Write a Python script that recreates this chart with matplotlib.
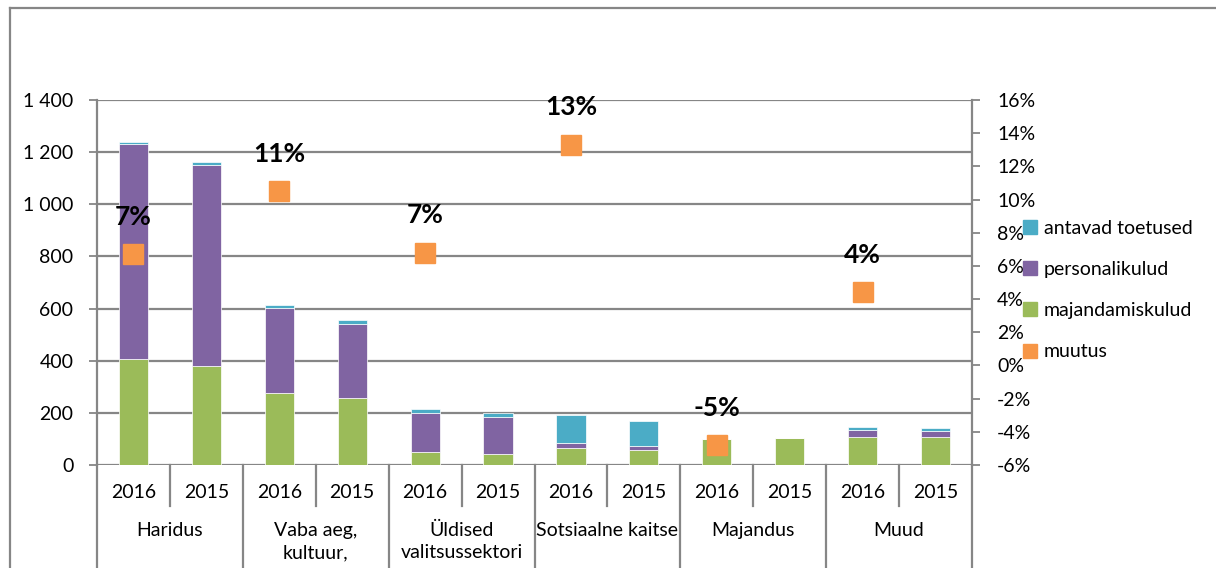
import numpy as np
import matplotlib
matplotlib.use('Agg')
import matplotlib.pyplot as plt
from matplotlib.patches import Patch
from matplotlib.lines import Line2D
import matplotlib.transforms as mtransforms

plt.rcParams['font.family'] = ['Lato', 'DejaVu Sans']

# Data
groups = ['Haridus', 'Vaba aeg,\nkultuur,', 'Üldised\nvalitsussektori',
          'Sotsiaalne kaitse', 'Majandus', 'Muud']
years = ['2016', '2015'] * 6
majandamiskulud = [405, 380, 277, 258, 48, 43, 66, 57, 98, 103, 107, 107]
personalikulud = [827, 772, 324, 284, 150, 142, 17, 15, 1, 0, 28, 23]
toetused = [6, 9, 13, 15, 17, 16, 109, 97, 1, 2, 11, 11]
muutus = [6.7, np.nan, 10.5, np.nan, 6.8, np.nan, 13.3, np.nan, -4.8, np.nan, 4.4, np.nan]
muutus_labels = ['7%', '', '11%', '', '7%', '', '13%', '', '-5%', '', '4%', '']

c_green = '#9BBB59'
c_purple = '#8064A2'
c_blue = '#4BACC6'
c_orange = '#F79646'
c_grid = '#868686'

W, H = 1216, 568
fig = plt.figure(figsize=(W / 100, H / 100), dpi=100)
ax = fig.add_axes([97 / W, 1 - 465 / H, (972 - 97) / W, 365 / H])
ax2 = ax.twinx()

x = np.arange(len(years))
g = np.array(majandamiskulud)
p = np.array(personalikulud)
t = np.array(toetused)
bw = 0.4
ax.bar(x, g, bw, color=c_green, edgecolor='white', linewidth=0.5, zorder=3)
ax.bar(x, p, bw, bottom=g, color=c_purple, edgecolor='white', linewidth=0.5, zorder=3)
ax.bar(x, t, bw, bottom=g + p, color=c_blue, edgecolor='white', linewidth=0.5, zorder=3)

ax.set_xlim(-0.5, len(years) - 0.5)
ax.set_ylim(0, 1400)
ax.set_yticks(range(0, 1401, 200))
ax.set_yticklabels([f'{v:,}'.replace(',', ' ') for v in range(0, 1401, 200)], fontsize=14)
ax.yaxis.grid(True, color=c_grid, linewidth=1.6, zorder=0)
ax.set_axisbelow(True)
ax.set_xticks([])
ax.tick_params(axis='y', length=6, width=1.3, color=c_grid, pad=11)
for s in ['top', 'bottom']:
    ax.spines[s].set_visible(False)
ax.spines['left'].set_color(c_grid)
ax.spines['left'].set_linewidth(1.6)
ax.spines['right'].set_visible(False)

# percent axis
ax2.set_ylim(-6, 16)
ax2.set_yticks(range(-6, 17, 2))
ax2.set_yticklabels([f'{v}%' for v in range(-6, 17, 2)], fontsize=14)
ax2.tick_params(axis='y', length=6, width=1.3, color=c_grid, pad=12)
for s in ['top', 'bottom', 'left']:
    ax2.spines[s].set_visible(False)
ax2.spines['right'].set_color(c_grid)
ax2.spines['right'].set_linewidth(1.6)
ax2.plot(x, muutus, 's', color=c_orange, markersize=15, zorder=5)
for xi, v, lab in zip(x, muutus, muutus_labels):
    if lab:
        ax2.annotate(lab, (xi, v), xytext=(0, 27), textcoords='offset points',
                     ha='center', va='center', fontsize=19, fontweight='bold')

# multi-level category axis
tr = mtransforms.blended_transform_factory(ax.transData, ax.transAxes)
bot = -103 / 365
for xi, yr in zip(x, years):
    ax.text(xi, -28 / 365, yr, transform=tr, ha='center', va='center', fontsize=14)
for i in range(len(years) + 1):
    xb = i - 0.5
    y_end = bot if i % 2 == 0 else -41 / 365
    ax.plot([xb, xb], [0, y_end], transform=tr, color=c_grid, linewidth=1.6, clip_on=False)
for k, name in enumerate(groups):
    ax.text(2 * k + 0.5, -57 / 365, name, transform=tr, ha='center', va='top',
            fontsize=14, linespacing=1.35)

# legend
handles = [Patch(color=c_blue), Patch(color=c_purple), Patch(color=c_green), Patch(color=c_orange)]
labels = ['antavad toetused', 'personalikulud', 'majandamiskulud', 'muutus']
fig.legend(handles, labels, loc='center left', bbox_to_anchor=(1005 / W, 1 - 290 / H),
           frameon=False, fontsize=14, handlelength=0.75, handleheight=0.75,
           handletextpad=0.35, labelspacing=1.25)

# outer chart border
fig.add_artist(Line2D([10 / W, 10 / W], [0, 1 - 8 / H], color=c_grid, linewidth=1.6))
fig.add_artist(Line2D([10 / W, 1], [1 - 8 / H, 1 - 8 / H], color=c_grid, linewidth=1.6))

fig.savefig('out.png', dpi=100)
